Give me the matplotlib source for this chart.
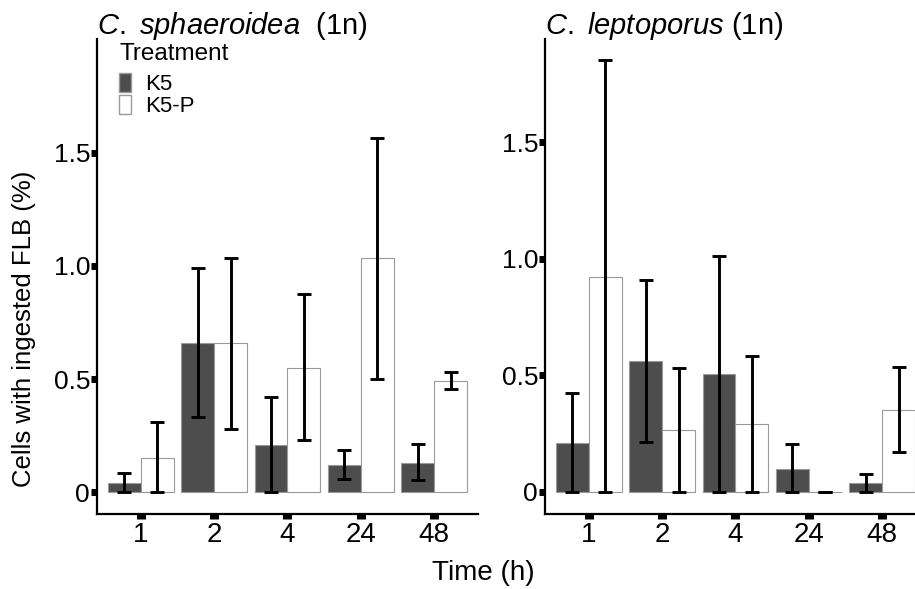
import matplotlib
matplotlib.use("Agg")
import matplotlib.pyplot as plt
import numpy as np
from matplotlib.patches import Patch

plt.rcParams.update({
    "font.family": "Liberation Sans",
    "mathtext.fontset": "custom",
    "mathtext.it": "Liberation Sans:italic",
    "mathtext.rm": "Liberation Sans",
})

# ---- data ----
TIMES = ["1", "2", "4", "24", "48"]

# C. sphaeroidea (1n)
SPH_K5 = [0.04, 0.66, 0.21, 0.12, 0.13]
SPH_K5_LO = [0.0, 0.33, 0.0, 0.056, 0.052]
SPH_K5_HI = [0.083, 0.99, 0.42, 0.185, 0.212]
SPH_K5P = [0.15, 0.66, 0.55, 1.035, 0.49]
SPH_K5P_LO = [0.0, 0.28, 0.23, 0.50, 0.456]
SPH_K5P_HI = [0.31, 1.035, 0.875, 1.565, 0.53]

# C. leptoporus (1n)
LEP_K5 = [0.21, 0.56, 0.505, 0.10, 0.037]
LEP_K5_LO = [0.0, 0.213, 0.0, 0.0, 0.0]
LEP_K5_HI = [0.423, 0.909, 1.012, 0.207, 0.078]
LEP_K5P = [0.924, 0.264, 0.29, 0.0, 0.353]
LEP_K5P_LO = [0.0, 0.0, 0.0, 0.0, 0.171]
LEP_K5P_HI = [1.854, 0.533, 0.582, 0.0, 0.536]

DARK = "#4d4d4d"
EDGE = "#999999"


def panel(ax, k5, k5lo, k5hi, k5p, k5plo, k5phi, ylim):
    x = np.arange(1, len(TIMES) + 1)
    w = 0.45
    for off, vals, lo, hi, fc in [(-w / 2, k5, k5lo, k5hi, DARK),
                                  (w / 2, k5p, k5plo, k5phi, "white")]:
        vals = np.array(vals)
        ax.bar(x + off, vals, w, color=fc, edgecolor=EDGE, linewidth=0.8, zorder=2)
        err = [vals - np.array(lo), np.array(hi) - vals]
        ax.errorbar(x + off, vals, yerr=err, fmt="none", ecolor="black",
                    elinewidth=2.1, capsize=4.8, capthick=2.1, zorder=3)
    ax.set_xlim(0.4, 5.6)
    ax.set_ylim(*ylim)
    ax.set_xticks(x)
    ax.set_xticklabels(TIMES, fontsize=20)
    ax.set_yticks([0, 0.5, 1.0, 1.5])
    ax.set_yticklabels(["0", "0.5", "1.0", "1.5"], fontsize=19)
    for s in ("top", "right"):
        ax.spines[s].set_visible(False)
    for s in ("left", "bottom"):
        ax.spines[s].set_linewidth(1.6)
    ax.tick_params(axis="x", length=3.5, width=6.5, pad=2)
    ax.tick_params(axis="y", length=4, width=5, pad=1)


fig = plt.figure(figsize=(9.15, 5.89), dpi=100)
ax1 = fig.add_axes([0.106, 0.1273, 0.4164, 0.8065])
ax2 = fig.add_axes([0.5956, 0.1273, 0.4164, 0.8065])

panel(ax1, SPH_K5, SPH_K5_LO, SPH_K5_HI, SPH_K5P, SPH_K5P_LO, SPH_K5P_HI,
      (-0.097, 2.004))
panel(ax2, LEP_K5, LEP_K5_LO, LEP_K5_HI, LEP_K5P, LEP_K5P_LO, LEP_K5P_HI,
      (-0.095, 1.944))

ax1.text(0.0, 1.01, r"$\it{C.\ sphaeroidea}$  (1n)", transform=ax1.transAxes,
         fontsize=21, ha="left", va="baseline")
ax2.text(0.0, 1.01, r"$\it{C.\ leptoporus}$ (1n)", transform=ax2.transAxes,
         fontsize=21, ha="left", va="baseline")

ax1.set_ylabel("Cells with ingested FLB (%)", fontsize=18.5)
ax1.yaxis.set_label_coords(-0.16, 0.39)
fig.text(0.528, 0.027, "Time (h)", fontsize=20, ha="center", va="center")

handles = [Patch(facecolor=DARK, edgecolor=EDGE, label="K5"),
           Patch(facecolor="white", edgecolor=EDGE, label="K5-P")]
leg = ax1.legend(handles=handles, title="Treatment", loc="upper left",
                 bbox_to_anchor=(0.035, 1.01), frameon=False, fontsize=16,
                 title_fontsize=17.5, handlelength=0.55, handleheight=0.9,
                 handletextpad=0.6, labelspacing=0.0, borderaxespad=0.0)
leg._legend_box.align = "left"
leg._legend_box.sep = 6

fig.savefig("out.png", dpi=100)
